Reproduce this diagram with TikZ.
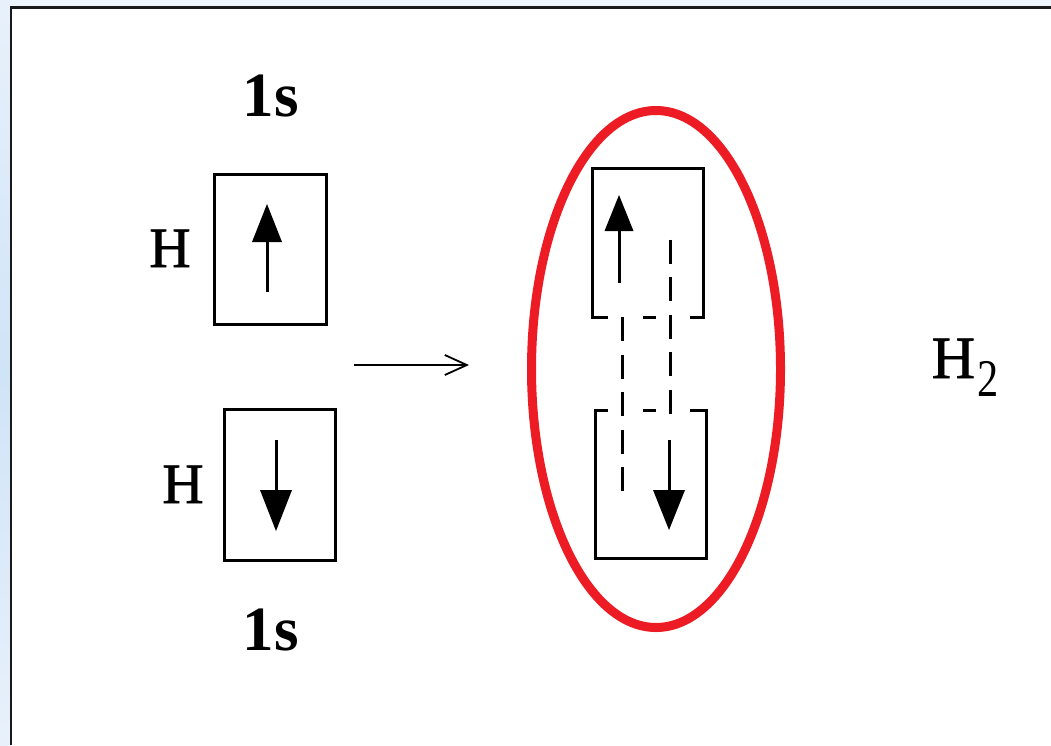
\documentclass[tikz,border=0pt]{standalone}
\usepackage{fontspec}
\setmainfont{Liberation Serif}
\newfontfamily\heavyserif[FakeBold=1.2]{Liberation Serif}
\newfontfamily\thinserif{Liberation Serif}
\usepackage{graphicx}
\usetikzlibrary{arrows.meta,shapes.geometric}
\definecolor{paintred}{RGB}{237,28,36}
\definecolor{bgblue}{RGB}{238,244,251}
\definecolor{stripA}{RGB}{232,241,251}
\definecolor{stripB}{RGB}{208,228,247}
\definecolor{framegray}{RGB}{25,25,25}
\begin{document}
\begin{tikzpicture}[x=1pt,y=-1pt,
  orb/.style={draw,line width=3.2pt,minimum width=112pt,minimum height=150pt,inner sep=0pt},
  spin/.style={line width=3pt},
  dsh/.style={line width=3pt,dash pattern=on 24pt off 13.5pt},
  lbl/.style={inner sep=0pt,anchor=base,font=\heavyserif\fontsize{57}{60}\selectfont},
  orbname/.style={inner sep=0pt,anchor=base,font=\bfseries\fontsize{63}{66}\selectfont},
  edge3/.style={line width=3.2pt}
]
\useasboundingbox (0,0) rectangle (1051,745);
\fill[bgblue] (0,0) rectangle (1051,745);
\shade[top color=stripA,bottom color=stripA,middle color=stripB] (0,0) rectangle (10,745);
\fill[white] (11,7.5) rectangle (1051,745);
\draw[framegray,line width=2.2pt] (11,745) -- (11,7.5) -- (1051,7.5);

% left orbitals
\node[orb] (boxA) at (270.5,249.5) {};
\node[orb,minimum width=111pt,minimum height=151pt] (boxB) at (280,485) {};
\node[lbl] (hA) at (170,267) {H};
\node[lbl] (hB) at (183,503) {H};
\node[orbname] (sA) at (271,116) {1s};
\node[orbname] (sB) at (271,650) {1s};

\coordinate (aT) at (267,292);
\coordinate (aH) at (267,204);
\draw[spin,-{Triangle[length=38pt,width=30pt,line width=0pt]}] (aT) -- (aH);
\coordinate (bT) at (276,440);
\coordinate (bH) at (276,531);
\draw[spin,-{Triangle[length=41pt,width=32pt,line width=0pt]}] (bT) -- (bH);

% reaction arrow
\coordinate (mA) at (354,365);
\coordinate (mB) at (469,365);
\draw[line width=2.4pt,-{Straight Barb[length=22pt,width=20pt,line width=1.8pt]}] (mA) -- (mB);

% bond ellipse
\node[ellipse,draw=paintred,line width=9pt,minimum width=249pt,minimum height=517pt,inner sep=0pt] (bond) at (656,369) {};

% inner boxes
\coordinate (u1) at (608,317.5);
\coordinate (u2) at (592.5,317.5);
\coordinate (u3) at (592.5,168.5);
\coordinate (u4) at (703.5,168.5);
\coordinate (u5) at (703.5,317.5);
\coordinate (u6) at (690,317.5);
\coordinate (u7) at (643,317.5);
\coordinate (u8) at (656,317.5);
\draw[edge3] (u1) -- (u2) -- (u3) -- (u4) -- (u5) -- (u6);
\draw[edge3] (u7) -- (u8);

\coordinate (l1) at (608,410.5);
\coordinate (l2) at (595.5,410.5);
\coordinate (l3) at (595.5,558.5);
\coordinate (l4) at (706.5,558.5);
\coordinate (l5) at (706.5,410.5);
\coordinate (l6) at (690,410.5);
\coordinate (l7) at (643,410.5);
\coordinate (l8) at (656,410.5);
\draw[edge3] (l1) -- (l2) -- (l3) -- (l4) -- (l5) -- (l6);
\draw[edge3] (l7) -- (l8);

% inner spins
\coordinate (cT) at (619,282.5);
\coordinate (cH) at (619,195);
\draw[spin,-{Triangle[length=36pt,width=29pt,line width=0pt]}] (cT) -- (cH);
\coordinate (dS) at (670,239.5);
\coordinate (dE) at (670,417);
\draw[dsh] (dS) -- (dE);
\coordinate (eT) at (669,440);
\coordinate (eH) at (669,530);
\draw[spin,-{Triangle[length=40pt,width=32pt,line width=0pt]}] (eT) -- (eH);
\coordinate (fS) at (622,317);
\coordinate (fE) at (622,495);
\draw[dsh] (fS) -- (fE);

% product label
\node[inner sep=0pt,anchor=base west,font=\heavyserif\fontsize{60}{62}\selectfont] (h2) at (931.5,378)
  {H\kern2pt\raisebox{-18pt}{\thinserif\fontsize{53}{55}\selectfont\scalebox{0.8}[1]{2}}};
\end{tikzpicture}
\end{document}
